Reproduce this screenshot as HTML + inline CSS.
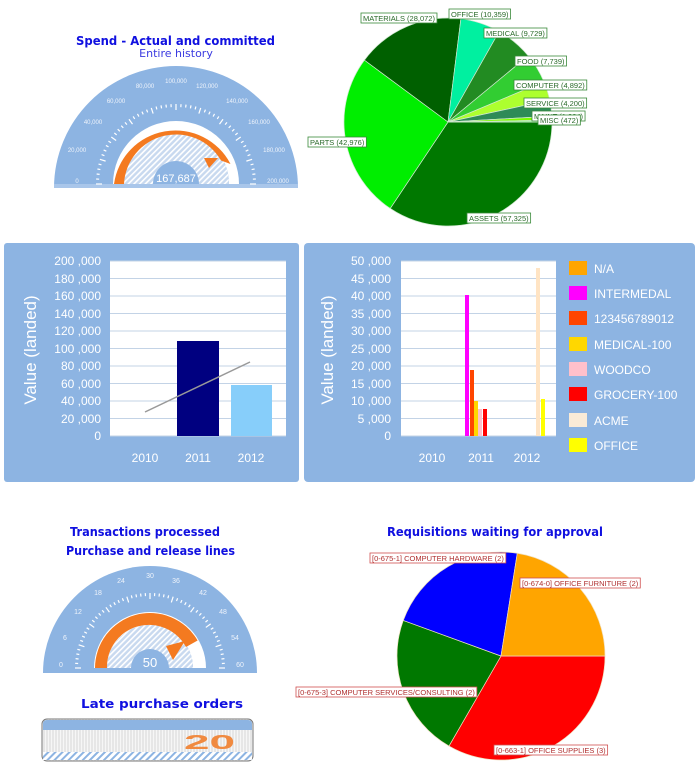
<!DOCTYPE html>
<html><head><meta charset="utf-8"><style>
html,body{margin:0;padding:0;background:#fff;}
svg{display:block;font-family:"Liberation Sans",sans-serif;}
.t{font-family:"DejaVu Sans","Liberation Sans",sans-serif;font-weight:bold;fill:#1010e0;}
</style></head><body>
<svg width="700" height="773" viewBox="0 0 700 773" xmlns="http://www.w3.org/2000/svg">
<defs>
<pattern id="h" width="4" height="4" patternUnits="userSpaceOnUse" patternTransform="rotate(45)">
<rect width="4" height="4" fill="#c8d9ef"/><rect width="1.6" height="4" fill="#ffffff"/>
</pattern>
<pattern id="h2" width="5" height="5" patternUnits="userSpaceOnUse" patternTransform="rotate(45)">
<rect width="5" height="5" fill="#fff"/><rect width="2" height="5" fill="#8db4e2"/>
</pattern>
<pattern id="vs" width="3" height="10" patternUnits="userSpaceOnUse">
<rect width="3" height="10" fill="#e6e6e6"/><rect width="1" height="10" fill="#f6f6f6"/>
</pattern>
</defs>

<!-- Gauge 1 -->
<text x="76" y="45" font-size="12.5" class="t" textLength="199" lengthAdjust="spacingAndGlyphs">Spend - Actual and committed</text>
<text x="176" y="57" text-anchor="middle" font-size="11" fill="#3a3ae0" font-family="DejaVu Sans,sans-serif">Entire history</text>
<path d="M54,188 A122,122 0 0 1 298,188 Z" fill="#8db4e2"/>
<rect x="54" y="184" width="244" height="4" fill="#a9c6ea"/>
<g id="tk1" stroke="#fff" stroke-width="1.2"></g>
<g font-size="6" fill="#eef3fb" text-anchor="middle">
<text x="77" y="183">0</text><text x="77" y="152">20,000</text><text x="93" y="124">40,000</text>
<text x="116" y="103">60,000</text><text x="145" y="88">80,000</text><text x="176" y="83">100,000</text>
<text x="207" y="88">120,000</text><text x="237" y="103">140,000</text><text x="259" y="124">160,000</text>
<text x="274" y="152">180,000</text><text x="278" y="183">200,000</text></g>
<path d="M113,184 A63,63 0 0 1 239,184 L229,184 A53,53 0 0 0 123,184 Z" fill="#fff"/>
<path d="M123,184 A53,53 0 0 1 229,184 L199,184 A23,23 0 0 0 153,184 Z" fill="url(#h)"/>
<path d="M114,184 A62,62 0 0 1 230.5,164 L221,160.5 A52,52 0 0 0 124,184 Z" fill="#f47a20"/>
<polygon points="204,158 218,158 209,168" fill="#f47a20"/>
<text x="176" y="182" text-anchor="middle" font-size="11" fill="#fff">167,687</text>

<!-- Pie 1 -->
<g id="pie1" stroke="#cfe8cf" stroke-width="0.7"></g>
<g font-size="7.5" fill="#2a6a2a">
<g id="lab1"></g>
</g>

<!-- middle panels -->
<rect x="4" y="243" width="295" height="239" rx="3" fill="#8db4e2"/>
<rect x="304" y="243" width="391" height="239" rx="4" fill="#8db4e2"/>
<rect x="110" y="261" width="176" height="175" fill="#fff"/>
<rect x="401" y="261" width="155" height="175" fill="#fff"/>
<g id="grid" stroke="#c3d3e6" stroke-width="1"></g>
<g font-size="12" fill="#fff" text-anchor="end">
<text x="101" y="265">200 ,000</text><text x="101" y="283">180 ,000</text><text x="101" y="300">160 ,000</text>
<text x="101" y="318">140 ,000</text><text x="101" y="335">120 ,000</text><text x="101" y="353">100 ,000</text>
<text x="101" y="370">80 ,000</text><text x="101" y="388">60 ,000</text><text x="101" y="405">40 ,000</text>
<text x="101" y="423">20 ,000</text><text x="101" y="440">0</text>
<text x="391" y="265">50 ,000</text><text x="391" y="283">45 ,000</text><text x="391" y="300">40 ,000</text>
<text x="391" y="318">35 ,000</text><text x="391" y="335">30 ,000</text><text x="391" y="353">25 ,000</text>
<text x="391" y="370">20 ,000</text><text x="391" y="388">15 ,000</text><text x="391" y="405">10 ,000</text>
<text x="391" y="423">5 ,000</text><text x="391" y="440">0</text>
</g>
<g font-size="12" fill="#fff" text-anchor="middle">
<text x="145" y="462">2010</text><text x="198" y="462">2011</text><text x="251" y="462">2012</text>
<text x="432" y="462">2010</text><text x="481" y="462">2011</text><text x="527" y="462">2012</text>
</g>
<text transform="translate(36,350) rotate(-90)" text-anchor="middle" font-size="17" fill="#fff">Value (landed)</text>
<text transform="translate(333,350) rotate(-90)" text-anchor="middle" font-size="17" fill="#fff">Value (landed)</text>
<rect x="177" y="341" width="42" height="95" fill="#000080"/>
<rect x="231" y="385" width="41" height="51" fill="#87cefa"/>
<line x1="145" y1="412" x2="250" y2="362" stroke="#999" stroke-width="1.5"/>
<rect x="465" y="295" width="4" height="141" fill="#ff00ff"/>
<rect x="470" y="370" width="4" height="66" fill="#ff4500"/>
<rect x="474" y="401" width="4" height="35" fill="#ffd700"/>
<rect x="478" y="409" width="4" height="27" fill="#ffc0cb"/>
<rect x="483" y="409" width="4" height="27" fill="#ff0000"/>
<rect x="536" y="268" width="4" height="168" fill="#ffe4c4"/>
<rect x="541" y="399" width="4" height="37" fill="#ffff00"/>
<g font-size="12" fill="#fff">
<rect x="569" y="261" width="18" height="14" fill="#ffa500"/><text x="594" y="273">N/A</text>
<rect x="569" y="286" width="18" height="14" fill="#ff00ff"/><text x="594" y="298">INTERMEDAL</text>
<rect x="569" y="311" width="18" height="14" fill="#ff4500"/><text x="594" y="323">123456789012</text>
<rect x="569" y="337" width="18" height="14" fill="#ffd700"/><text x="594" y="349">MEDICAL-100</text>
<rect x="569" y="362" width="18" height="14" fill="#ffc0cb"/><text x="594" y="374">WOODCO</text>
<rect x="569" y="387" width="18" height="14" fill="#ff0000"/><text x="594" y="399">GROCERY-100</text>
<rect x="569" y="413" width="18" height="14" fill="#faebd7"/><text x="594" y="425">ACME</text>
<rect x="569" y="438" width="18" height="14" fill="#ffff00"/><text x="594" y="450">OFFICE</text>
</g>

<!-- Gauge 2 -->
<text x="70" y="536" font-size="12.5" class="t" textLength="150" lengthAdjust="spacingAndGlyphs">Transactions processed</text>
<text x="66" y="555" font-size="12.5" class="t" textLength="169" lengthAdjust="spacingAndGlyphs">Purchase and release lines</text>
<path d="M43,673 A107,107 0 0 1 257,673 Z" fill="#8db4e2"/>
<g id="tk2" stroke="#fff" stroke-width="1.2"></g>
<g font-size="7" fill="#eef3fb" text-anchor="middle">
<text x="61" y="667">0</text><text x="65" y="640">6</text><text x="78" y="614">12</text><text x="98" y="595">18</text>
<text x="121" y="583">24</text><text x="150" y="578">30</text><text x="176" y="583">36</text><text x="203" y="595">42</text>
<text x="223" y="614">48</text><text x="235" y="640">54</text><text x="240" y="667">60</text></g>
<path d="M94,668 A56,56 0 0 1 206,668 L193,668 A43,43 0 0 0 107,668 Z" fill="#fff"/>
<path d="M107,668 A43,43 0 0 1 193,668 L169,668 A19,19 0 0 0 131,668 Z" fill="url(#h)"/>
<path d="M95,668 A55,55 0 0 1 197.6,640.5 L186,647 A42,42 0 0 0 107,668 Z" fill="#f47a20"/>
<polygon points="166,646 185,641 173,660" fill="#f47a20"/>
<text x="150" y="667" text-anchor="middle" font-size="13" fill="#fff">50</text>

<!-- Late -->
<text x="81" y="708" font-size="12.5" class="t" textLength="162" lengthAdjust="spacingAndGlyphs">Late purchase orders</text>
<rect x="42" y="719" width="211" height="42" rx="5" fill="url(#vs)" stroke="#777" stroke-width="1"/>
<path d="M43,730 L43,724 Q43,720 47,720 L248,720 Q252,720 252,724 L252,730 Z" fill="#8db4e2"/>
<rect x="43" y="752" width="209" height="8" fill="url(#h2)"/>
<text x="184" y="749" font-size="20" font-weight="bold" fill="#f08a40" font-family="Liberation Sans,sans-serif" textLength="51" lengthAdjust="spacingAndGlyphs">20</text>

<!-- Pie 2 -->
<text x="387" y="536" font-size="12.5" class="t" textLength="216" lengthAdjust="spacingAndGlyphs">Requisitions waiting for approval</text>
<g id="pie2" stroke="#f0e0c0" stroke-width="0.7"></g>
<g font-size="7.5" fill="#b03030" id="lab2"></g>
</svg>
<script>
var NS="http://www.w3.org/2000/svg";
function el(p,t,a){var e=document.createElementNS(NS,t);for(var k in a)e.setAttribute(k,a[k]);p.appendChild(e);return e;}
function ticks(id,cx,cy,r,n,major){var g=document.getElementById(id);
for(var i=0;i<=n;i++){var a=Math.PI-i*Math.PI/n;var l=(i%major==0)?6:3;
el(g,"line",{x1:cx+r*Math.cos(a),y1:cy-r*Math.sin(a),x2:cx+(r-l)*Math.cos(a),y2:cy-(r-l)*Math.sin(a)});}}
ticks("tk1",176,184,80,50,5);ticks("tk2",150,668,75,50,5);
function pie(id,cx,cy,r,sl){var g=document.getElementById(id);
sl.forEach(function(s){var a0=s[0]*Math.PI/180,a1=s[1]*Math.PI/180;
var x0=cx+r*Math.cos(a0),y0=cy+r*Math.sin(a0),x1=cx+r*Math.cos(a1),y1=cy+r*Math.sin(a1);
el(g,"path",{d:"M"+cx+","+cy+" L"+x0+","+y0+" A"+r+","+r+" 0 "+((s[1]-s[0])>180?1:0)+" 1 "+x1+","+y1+" Z",fill:s[2]});});}
var vals=[[57325,"#007800"],[42976,"#00ee00"],[28072,"#006000"],[10359,"#00f0a0"],[9729,"#228b22"],[7739,"#32cd32"],[4892,"#adff2f"],[4200,"#2e8b57"],[1004,"#7cfc00"],[472,"#90ee90"]];
var tot=0;vals.forEach(function(v){tot+=v[0];});var a=0,sl=[];
vals.forEach(function(v){var d=v[0]/tot*360;sl.push([a,a+d,v[1]]);a+=d;});
pie("pie1",448,122,104,sl);
pie("pie2",501,656,104,[[0,120,"#ff0000"],[120,200,"#007800"],[200,279,"#0000ff"],[279,360,"#ffa500"]]);
function labels(gid,labs,col){var lg=document.getElementById(gid);
labs.forEach(function(l){var t=el(lg,"text",{x:l[1]+2,y:l[2]+8});t.textContent=l[0];
var w=t.getComputedTextLength();var r=el(lg,"rect",{x:l[1],y:l[2],width:w+4,height:10,fill:"#fff",stroke:col,"stroke-width":0.8});lg.insertBefore(r,t);});}
labels("lab1",[["MATERIALS (28,072)",361,13],["OFFICE (10,359)",449,9],["MEDICAL (9,729)",484,28],["FOOD (7,739)",515,56],["COMPUTER (4,892)",514,80],["SERVICE (4,200)",524,98],["MAINT (1,004)",532,111],["MISC (472)",538,115],["PARTS (42,976)",308,137],["ASSETS (57,325)",467,213]],"#3a8a3a");
labels("lab2",[["[0-675-1] COMPUTER HARDWARE (2)",370,553],["[0-674-0] OFFICE FURNITURE (2)",520,578],["[0-675-3] COMPUTER SERVICES/CONSULTING (2)",296,687],["[0-663-1] OFFICE SUPPLIES (3)",494,745]],"#d05050");
var gg=document.getElementById("grid");
for(var i=0;i<=10;i++){var y=261+i*17.5;el(gg,"line",{x1:110,y1:y,x2:286,y2:y});el(gg,"line",{x1:401,y1:y,x2:556,y2:y});}
</script>
</body></html>
